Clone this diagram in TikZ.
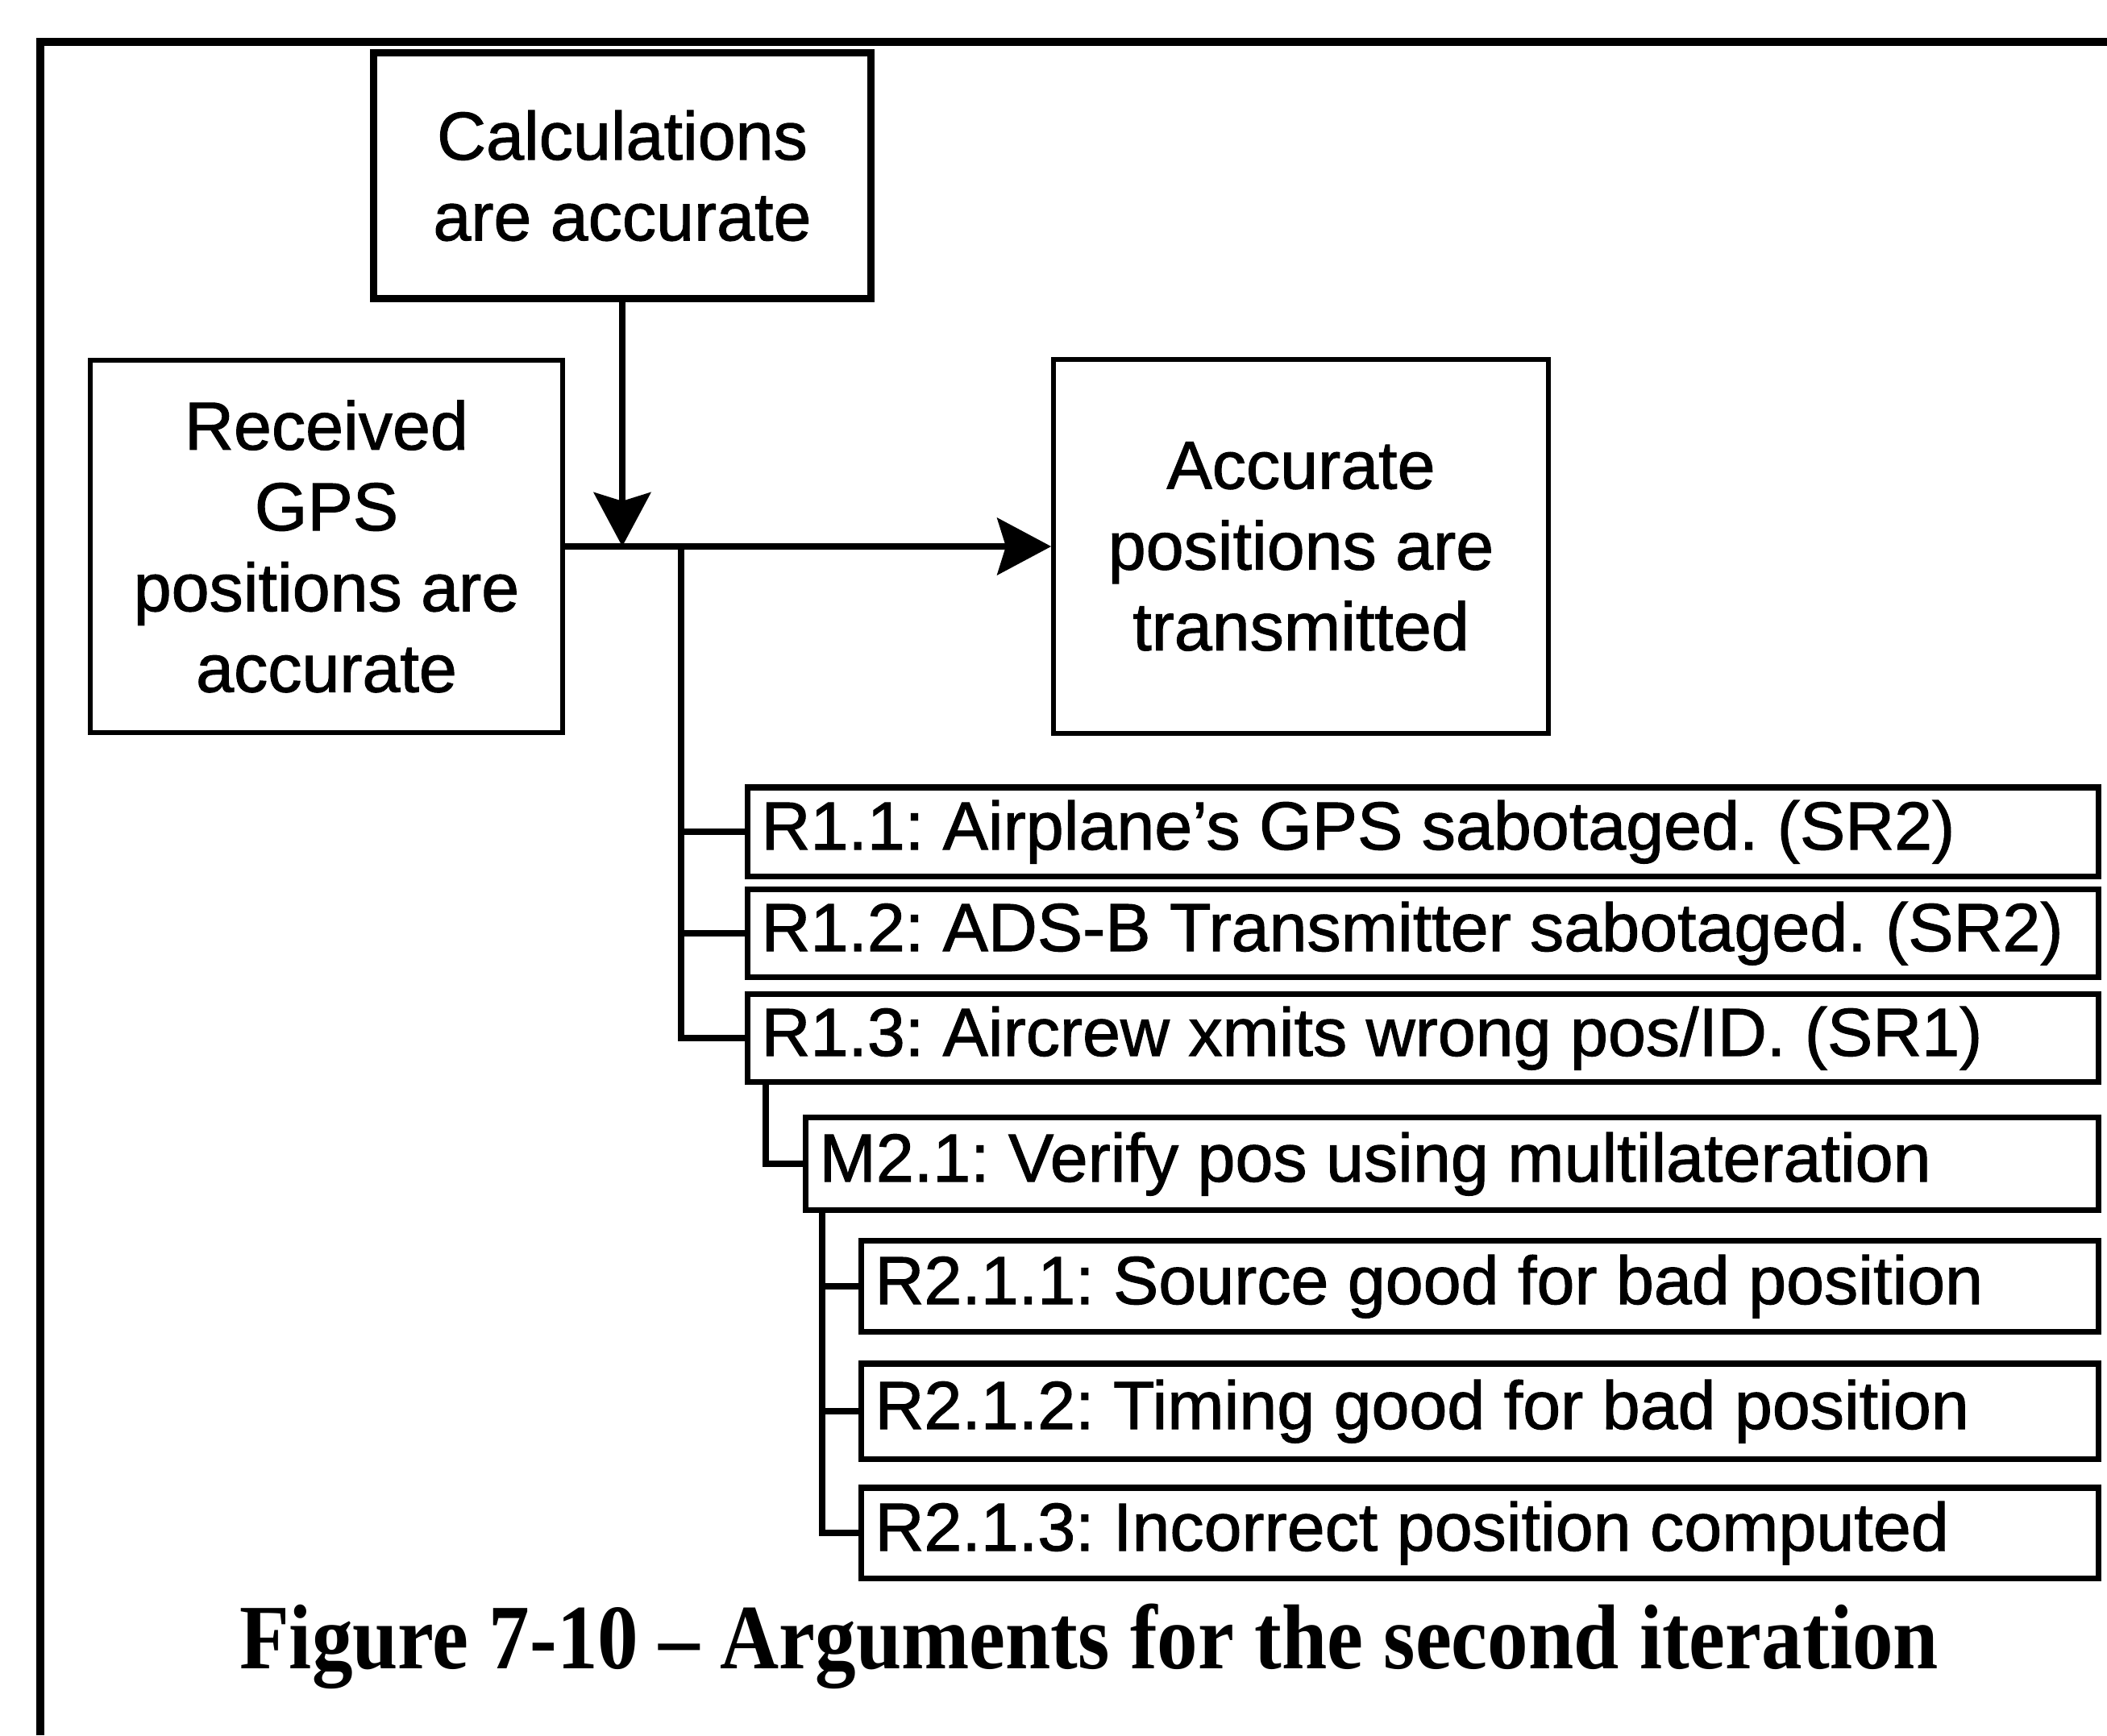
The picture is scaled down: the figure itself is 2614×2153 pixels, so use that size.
\documentclass[tikz,border=0pt]{standalone}
\usepackage{fontspec}
\setmainfont[FakeBold=1.2]{Liberation Sans}
\newfontfamily\capfont[FakeStretch=0.885]{Liberation Serif}
\usetikzlibrary{arrows.meta}
\newcommand{\rowtxt}[2]{\makebox[#1][l]{#2}}
\frenchspacing
\begin{document}
\begin{tikzpicture}[x=0.01cm,y=-0.01cm,
  bigbox/.style={draw, line width=1.7pt, inner sep=0pt, align=center,
    font=\fontsize{24}{28.5}\selectfont},
  rowbox/.style={draw, line width=2pt, inner xsep=0.17cm, inner ysep=0pt, anchor=west,
    text height=0.62cm, text depth=0.18cm, font=\fontsize{24}{28.5}\selectfont},
  conn/.style={line width=2.5pt},
  branch/.style={line width=2.2pt},
  tip/.style={-{Stealth[length=19pt,width=20pt,inset=3pt]}},
  frame/.style={line width=2.8pt},
  caption/.style={font=\capfont\bfseries\fontsize{32.5}{38}\selectfont, anchor=base, inner sep=0pt}]
\useasboundingbox (0,0) rectangle (2614,2153);
\draw[frame] (50,2153) -- (50,52) -- (2614,52);

\node[bigbox, line width=2.7pt, minimum width=6.17cm, minimum height=3.05cm] (calc) at (772,218)
  {Calculations\\are accurate};
\node[bigbox, minimum width=5.86cm, minimum height=4.61cm] (rec) at (405,678)
  {Received\\GPS\\positions are\\accurate};
\node[bigbox, line width=1.8pt, minimum width=6.13cm, minimum height=4.64cm] (acc) at (1614,678)
  {Accurate\\positions are\\transmitted};

\node[rowbox, minimum height=1.10cm] (r11) at (924,1032)
  {\rowtxt{16.41cm}{R1.1: Airplane’s GPS sabotaged. (SR2)}};
\node[rowbox, minimum height=1.09cm] (r12) at (924,1158)
  {\rowtxt{16.41cm}{R1.2: ADS-B Transmitter sabotaged. (SR2)}};
\node[rowbox, minimum height=1.09cm] (r13) at (924,1288)
  {\rowtxt{16.41cm}{R1.3: Aircrew xmits wrong pos/ID. (SR1)}};
\node[rowbox, minimum height=1.15cm] (m21) at (996,1444)
  {\rowtxt{15.69cm}{M2.1: Verify pos using multilateration}};
\node[rowbox, minimum height=1.13cm] (r211) at (1065,1596)
  {\rowtxt{15.00cm}{R2.1.1: Source good for bad position}};
\node[rowbox, minimum height=1.18cm] (r212) at (1065,1751)
  {\rowtxt{15.00cm}{R2.1.2: Timing good for bad position}};
\node[rowbox, minimum height=1.12cm] (r213) at (1065,1902)
  {\rowtxt{15.00cm}{R2.1.3: Incorrect position computed}};

\node[caption] (cap) at (1351,2070) {Figure 7-10 – Arguments for the second iteration};

\coordinate (j1) at (772,678);
\draw[conn, tip] (calc.south) -- (j1);
\draw[conn, tip] (rec.east) -- (acc.west);

\coordinate (b1) at (845,678);
\draw[branch] (b1) |- (r13.west);
\draw[branch] (b1 |- r11.west) -- (r11.west);
\draw[branch] (b1 |- r12.west) -- (r12.west);

\coordinate (b2) at ([xshift=0.26cm]r13.south west);
\draw[branch] (b2) |- (m21.west);

\coordinate (b3) at ([xshift=0.24cm]m21.south west);
\draw[branch] (b3) |- (r213.west);
\draw[branch] (b3 |- r211.west) -- (r211.west);
\draw[branch] (b3 |- r212.west) -- (r212.west);
\end{tikzpicture}
\end{document}
